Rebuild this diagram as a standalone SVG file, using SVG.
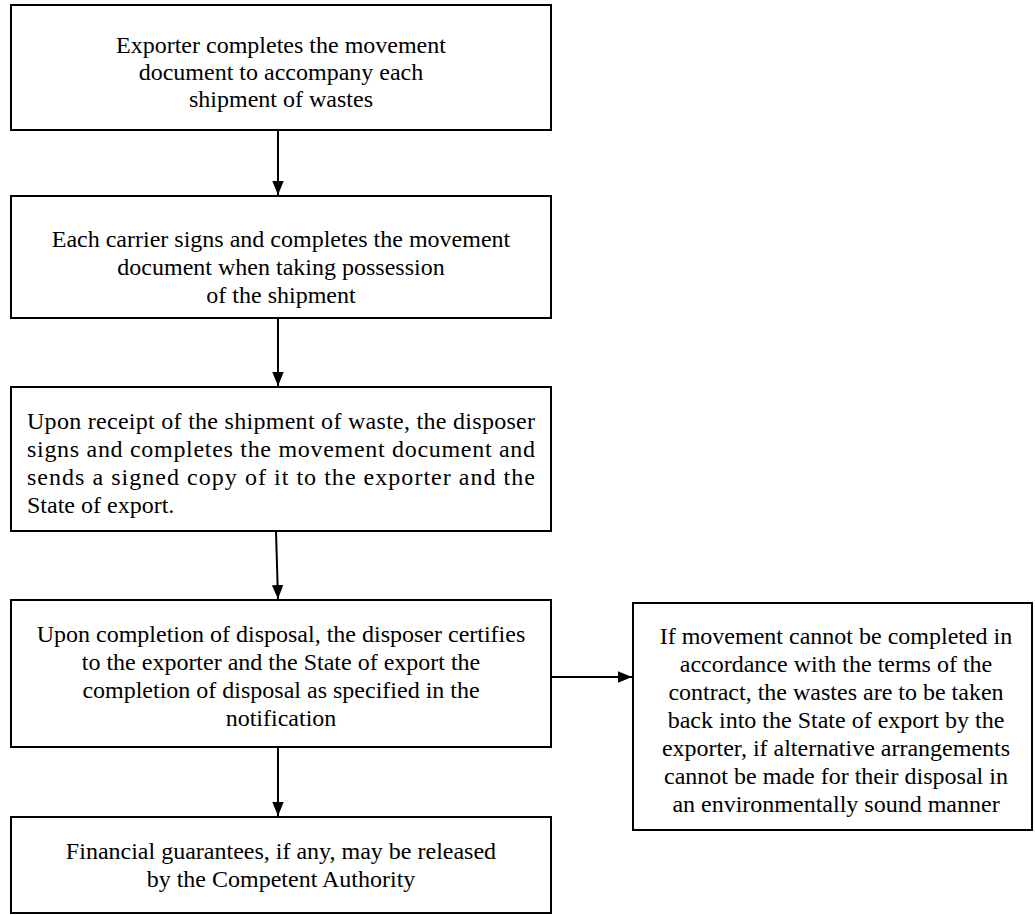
<svg xmlns="http://www.w3.org/2000/svg" width="1035" height="915" viewBox="0 0 1035 915">
<style>
.box{fill:#fff;stroke:#000;stroke-width:2}
.t{font-family:"Liberation Serif","Times New Roman",serif;font-size:24px;fill:#000}
.c{text-anchor:middle}
.edge{stroke:#000;stroke-width:2;fill:none}
</style>
<defs>
<marker id="ah" markerWidth="14" markerHeight="16" viewBox="0 0 16 14" refX="16" refY="7" orient="auto" markerUnits="userSpaceOnUse">
<path d="M0,0.5 L16,7 L0,13.5 Z" fill="#000"/>
</marker>
</defs>
<rect width="1035" height="915" fill="#fff"/>
<g id="connectors">
<line class="edge" x1="278" y1="130" x2="278" y2="195" marker-end="url(#ah)"/>
<line class="edge" x1="278" y1="318" x2="278" y2="386" marker-end="url(#ah)"/>
<line class="edge" x1="276" y1="531" x2="278" y2="599" marker-end="url(#ah)"/>
<line class="edge" x1="278" y1="747" x2="278" y2="816" marker-end="url(#ah)"/>
<line class="edge" x1="551" y1="677" x2="632" y2="677" marker-end="url(#ah)"/>
</g>
<g id="n1">
<rect class="box" x="11" y="5" width="540" height="125"/>
<text class="t c" x="281" y="53">Exporter completes the movement</text>
<text class="t c" x="281" y="80">document to accompany each</text>
<text class="t c" x="281" y="107">shipment of wastes</text>
</g>
<g id="n2">
<rect class="box" x="11" y="196" width="540" height="122"/>
<text class="t c" x="281" y="247">Each carrier signs and completes the movement</text>
<text class="t c" x="281" y="275">document when taking possession</text>
<text class="t c" x="281" y="303">of the shipment</text>
</g>
<g id="n3">
<rect class="box" x="11" y="387" width="540" height="144"/>
<text class="t" x="27" y="429" textLength="508" lengthAdjust="spacing">Upon receipt of the shipment of waste, the disposer</text>
<text class="t" x="27" y="457" textLength="508" lengthAdjust="spacing">signs and completes the movement document and</text>
<text class="t" x="27" y="485" textLength="508" lengthAdjust="spacing">sends a signed copy of it to the exporter and the</text>
<text class="t" x="27" y="513">State of export.</text>
</g>
<g id="n4">
<rect class="box" x="11" y="600" width="540" height="147"/>
<text class="t c" x="281" y="642">Upon completion of disposal, the disposer certifies</text>
<text class="t c" x="281" y="670">to the exporter and the State of export the</text>
<text class="t c" x="281" y="698">completion of disposal as specified in the</text>
<text class="t c" x="281" y="726">notification</text>
</g>
<g id="n5">
<rect class="box" x="11" y="817" width="540" height="96"/>
<text class="t c" x="281" y="859">Financial guarantees, if any, may be released</text>
<text class="t c" x="281" y="887">by the Competent Authority</text>
</g>
<g id="n6">
<rect class="box" x="633" y="603" width="399" height="227"/>
<text class="t c" x="836" y="644">If movement cannot be completed in</text>
<text class="t c" x="836" y="672">accordance with the terms of the</text>
<text class="t c" x="836" y="700">contract, the wastes are to be taken</text>
<text class="t c" x="836" y="728">back into the State of export by the</text>
<text class="t c" x="836" y="756">exporter, if alternative arrangements</text>
<text class="t c" x="836" y="784">cannot be made for their disposal in</text>
<text class="t c" x="836" y="812">an environmentally sound manner</text>
</g>
</svg>
